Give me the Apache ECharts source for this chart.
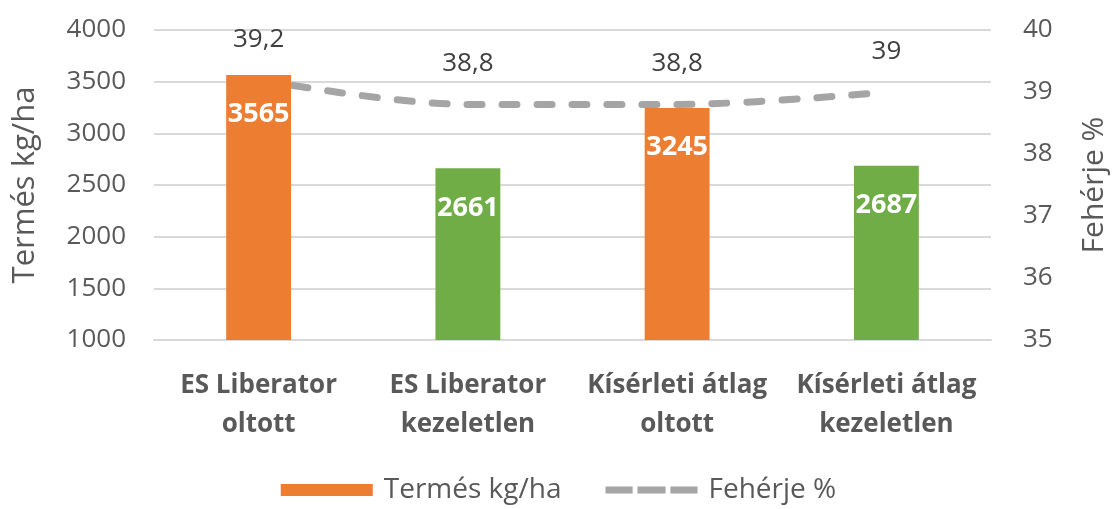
<!DOCTYPE html>
<html>
<head>
<meta charset="utf-8">
<script src="https://cdn.jsdelivr.net/npm/echarts@6/dist/echarts.min.js"></script>
<style>
  html, body { margin: 0; padding: 0; background: #fff; }
  #main { width: 1117px; height: 509px; }
</style>
</head>
<body>
<div id="main"></div>
<script>
// adatok
var categories = ["ES Liberator\noltott", "ES Liberator\nkezeletlen", "Kísérleti átlag\noltott", "Kísérleti átlag\nkezeletlen"];
var termes = [3565, 2661, 3245, 2687];      // Termés kg/ha
var feherje = [39.2, 38.8, 38.8, 39];       // Fehérje %
var barColors = ["#ED7D31", "#70AD47", "#ED7D31", "#70AD47"];
var leftTicks = { min: 1000, max: 4000, interval: 500 };
var rightTicks = { min: 35, max: 40, interval: 1 };

var myChart = echarts.init(document.getElementById("main"));
var font = "'Open Sans', 'Noto Sans', sans-serif";

// szaggatott vonal ikon a jelmagyarazathoz (0 es 12 magassagu pontok a keret miatt)
var dashIcon = "path://M0,0L0.01,0L0,0Z M0,12L0.01,12L0,12Z " +
  "M0,2.5h28v7h-28Z M33,2.5h29v7h-29Z M67,2.5h28v7h-28Z";

var option = {
  animation: false,
  textStyle: { fontFamily: font },
  grid: { left: 154, right: 119, top: 30, bottom: 169 },
  legend: {
    bottom: 0,
    left: "center",
    itemWidth: 92,
    itemHeight: 12,
    itemGap: 44,
    textStyle: { color: "#595959", fontSize: 28, fontFamily: font, padding: [0, 0, 0, 6] },
    data: [
      { name: "Termés kg/ha", icon: "rect", itemStyle: { color: "#ED7D31" } },
      { name: "Fehérje %", icon: dashIcon, itemStyle: { color: "#A5A5A5", opacity: 1 } }
    ]
  },
  xAxis: {
    type: "category",
    data: categories,
    axisTick: { show: false },
    axisLine: { lineStyle: { color: "#D9D9D9", width: 2 } },
    axisLabel: {
      color: "#595959",
      fontSize: 26,
      fontWeight: "bold",
      lineHeight: 39,
      margin: 26,
      interval: 0,
      fontFamily: font
    }
  },
  yAxis: [
    {
      type: "value",
      name: "Termés kg/ha",
      nameLocation: "middle",
      nameGap: 113,
      nameTextStyle: { color: "#595959", fontSize: 31, fontFamily: font },
      min: leftTicks.min,
      max: leftTicks.max,
      interval: leftTicks.interval,
      axisLabel: {
        color: "#595959", fontSize: 26, margin: 28, fontFamily: font,
        formatter: function (v) { return String(v); }
      },
      axisLine: { show: false },
      axisTick: { show: false },
      splitLine: { lineStyle: { color: "#D9D9D9", width: 2 } }
    },
    {
      type: "value",
      name: "Fehérje %",
      nameLocation: "middle",
      nameGap: 88,
      nameTextStyle: { color: "#595959", fontSize: 30, fontFamily: font },
      min: rightTicks.min,
      max: rightTicks.max,
      interval: rightTicks.interval,
      axisLabel: {
        color: "#595959", fontSize: 26, margin: 32, fontFamily: font,
        formatter: function (v) { return String(v); }
      },
      axisLine: { show: false },
      axisTick: { show: false },
      splitLine: { show: false }
    }
  ],
  series: [
    {
      name: "Fehérje %",
      type: "line",
      yAxisIndex: 1,
      data: feherje,
      smooth: 0.35,
      symbol: "circle",
      symbolSize: 1,
      showSymbol: true,
      z: 1,
      lineStyle: { color: "#A5A5A5", width: 7, type: [15, 20], cap: "round" },
      itemStyle: { color: "rgba(165,165,165,0)" },
      label: {
        show: true,
        position: "top",
        distance: 27,
        color: "#404040",
        fontSize: 26,
        fontFamily: font,
        formatter: function (p) { return String(p.value).replace(".", ","); }
      }
    },
    {
      name: "Termés kg/ha",
      type: "bar",
      yAxisIndex: 0,
      z: 3,
      barWidth: "31%",
      data: termes.map(function (v, i) {
        return { value: v, itemStyle: { color: barColors[i] } };
      }),
      itemStyle: { color: "#ED7D31" },
      label: {
        show: true,
        position: "insideTop",
        distance: 26,
        color: "#fff",
        fontSize: 27,
        fontWeight: "bold",
        fontFamily: font
      }
    }
  ]
};
myChart.setOption(option);
</script>
</body>
</html>
